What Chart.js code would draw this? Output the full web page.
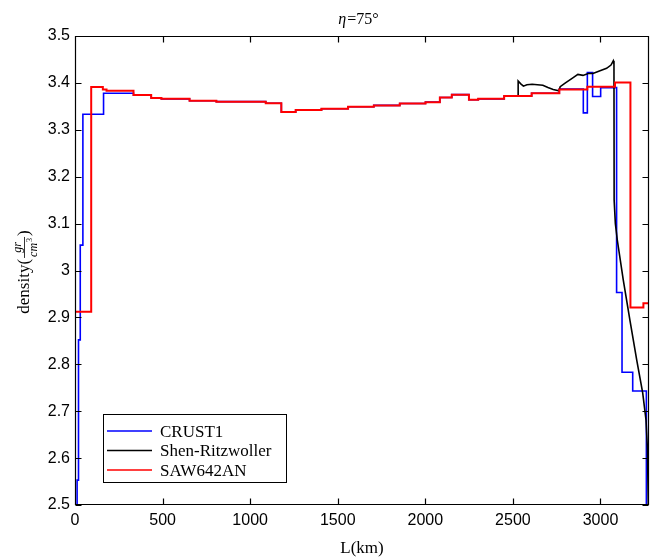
<!DOCTYPE html>
<html>
<head>
<meta charset="utf-8">
<script src="https://cdn.jsdelivr.net/npm/chart.js@4/dist/chart.umd.min.js"></script>
<style>
  html, body { margin: 0; padding: 0; background: #fff; }
  #wrap { width: 650px; height: 559px; position: relative; }
</style>
</head>
<body>
<div id="wrap"><canvas id="c"></canvas></div>
<script>
// ---- data ----
const titleText = ['η', '=75°'];
const xAxisLabel = 'L(km)';
const xTickValues = [0, 500, 1000, 1500, 2000, 2500, 3000];
const yTickValues = [2.5, 2.6, 2.7, 2.8, 2.9, 3.0, 3.1, 3.2, 3.3, 3.4, 3.5];
const seriesNames = ['CRUST1', 'Shen-Ritzwoller', 'SAW642AN'];

// CRUST1 (step profile: value holds until next x)
const crustX = [0, 12, 20, 30, 45, 163, 334, 435, 493, 654, 807, 1089, 1178, 1260, 1407, 1559, 1706, 1854, 2001, 2083, 2151, 2249, 2302, 2450, 2607, 2765, 2902, 2925, 2955, 3001, 3092, 3123, 3184, 3262, 3277];
const crustY = [1.03, 2.553, 2.852, 3.054, 3.333, 3.378, 3.374, 3.368, 3.366, 3.362, 3.360, 3.3565, 3.338, 3.342, 3.345, 3.349, 3.352, 3.356, 3.359, 3.369, 3.375, 3.364, 3.366, 3.372, 3.378, 3.387, 3.336, 3.422, 3.371, 3.390, 2.953, 2.783, 2.743, 2.30, 2.30];

// Shen-Ritzwoller (continuous profile)
const shenX = [2530, 2530, 2545, 2560, 2580, 2610, 2640, 2671, 2700, 2730, 2763, 2770, 2800, 2840, 2871, 2900, 2930, 2957, 2990, 3035, 3060, 3073, 3077, 3078, 3085, 3096, 3130, 3168, 3207, 3241, 3260, 3268, 3275];
const shenY = [3.372, 3.404, 3.398, 3.393, 3.396, 3.397, 3.396, 3.395, 3.390, 3.386, 3.383, 3.392, 3.400, 3.410, 3.418, 3.416, 3.420, 3.420, 3.425, 3.431, 3.438, 3.447, 3.440, 3.150, 3.100, 3.065, 2.980, 2.894, 2.809, 2.739, 2.681, 2.620, 2.450];

// SAW642AN (step profile)
const sawX = [0, 92.5, 159, 180, 334, 435, 493, 654, 807, 1089, 1178, 1260, 1407, 1559, 1706, 1854, 2001, 2083, 2151, 2249, 2302, 2450, 2607, 2765, 2925, 3083, 3171, 3245, 3277];
const sawY = [2.912, 3.391, 3.386, 3.383, 3.374, 3.368, 3.366, 3.362, 3.360, 3.3565, 3.338, 3.342, 3.345, 3.349, 3.352, 3.356, 3.359, 3.369, 3.375, 3.364, 3.366, 3.372, 3.378, 3.386, 3.392, 3.401, 2.921, 2.930, 2.930];

const xMin = 0, xMax = 3277, yMin = 2.5, yMax = 3.5;

const toPts = (xs, ys) => xs.map((x, i) => ({ x: x, y: ys[i] }));
const colors = ['#0000ff', '#000000', '#ff0000'];

const SERIF = '"Liberation Serif", "Times New Roman", serif';
const SANS = '"Liberation Sans", Arial, sans-serif';

const decorPlugin = {
  id: 'decor',
  afterDatasetsDraw(chart) {
    const ctx = chart.ctx;
    const a = chart.chartArea;
    const xs = chart.scales.x, ys = chart.scales.y;
    ctx.save();
    ctx.strokeStyle = '#000';
    ctx.lineWidth = 1.2;
    const L = Math.round(a.left) + 0.5, R = Math.round(a.right) - 0.5;
    const T = Math.round(a.top) + 0.5, B = Math.round(a.bottom) - 0.5;
    ctx.beginPath();
    ctx.rect(L, T, R - L, B - T);
    const tl = 6;
    xTickValues.forEach(v => {
      const px = Math.round(xs.getPixelForValue(v)) + 0.5;
      ctx.moveTo(px, B); ctx.lineTo(px, B - tl);
      ctx.moveTo(px, T); ctx.lineTo(px, T + tl);
    });
    yTickValues.forEach(v => {
      const py = Math.round(ys.getPixelForValue(v)) + 0.5;
      ctx.moveTo(L, py); ctx.lineTo(L + tl, py);
      ctx.moveTo(R, py); ctx.lineTo(R - tl, py);
    });
    ctx.stroke();

    // legend
    const lx = 103.5, ly = 414.5, lw = 183, lh = 68;
    ctx.fillStyle = '#fff';
    ctx.fillRect(lx, ly, lw, lh);
    ctx.lineWidth = 1;
    ctx.strokeRect(lx, ly, lw, lh);
    const rows = [431, 450.5, 470];
    ctx.font = '17px ' + SERIF;
    ctx.textBaseline = 'alphabetic';
    ctx.textAlign = 'left';
    seriesNames.forEach((name, i) => {
      ctx.strokeStyle = colors[i];
      ctx.lineWidth = 1.6;
      ctx.beginPath();
      ctx.moveTo(107, rows[i]); ctx.lineTo(152, rows[i]);
      ctx.stroke();
      ctx.fillStyle = '#000';
      ctx.fillText(name, 160, rows[i] + 5.5);
    });
    ctx.restore();
  },
  afterDraw(chart) {
    const ctx = chart.ctx;
    const a = chart.chartArea;
    ctx.save();
    ctx.fillStyle = '#000';
    ctx.textBaseline = 'alphabetic';
    // title
    ctx.font = 'italic 16px ' + SERIF;
    const w1 = ctx.measureText(titleText[0]).width;
    ctx.font = '16px ' + SERIF;
    const w2 = ctx.measureText(titleText[1]).width;
    const cx = (a.left + a.right) / 2 - 4;
    let sx = cx - (w1 + w2) / 2;
    ctx.textAlign = 'left';
    ctx.font = 'italic 16px ' + SERIF;
    ctx.fillText(titleText[0], sx, 24);
    ctx.font = '16px ' + SERIF;
    ctx.fillText(titleText[1], sx + w1 + 1, 24);

    // x label
    ctx.textAlign = 'center';
    ctx.font = '17px ' + SERIF;
    ctx.fillText(xAxisLabel, (a.left + a.right) / 2, 553);

    // y label: density(gr/cm^3)
    ctx.save();
    ctx.translate(24, 272);
    ctx.rotate(-Math.PI / 2);
    ctx.textAlign = 'left';
    const bigF = '17px ' + SERIF;
    const smF = 'italic 12px ' + SERIF;
    const supF = '8px ' + SERIF;
    ctx.font = bigF;
    const wd = ctx.measureText('density(').width;
    const wp = ctx.measureText(')').width;
    ctx.font = smF;
    const wn = ctx.measureText('gr').width;
    const wc = ctx.measureText('cm').width;
    ctx.font = supF;
    const ws = ctx.measureText('3').width;
    const wden = wc + ws + 1;
    const wf = Math.max(wn, wden) + 4;
    const total = wd + wf + wp;
    let x0 = -total / 2;
    const base = 5;
    ctx.font = bigF;
    ctx.fillText('density(', x0, base);
    const fx = x0 + wd;
    ctx.font = smF;
    ctx.fillText('gr', fx + (wf - wn) / 2, base - 8);
    ctx.fillText('cm', fx + (wf - wden) / 2, base + 8);
    ctx.font = supF;
    ctx.fillText('3', fx + (wf - wden) / 2 + wc + 1, base + 3);
    ctx.lineWidth = 0.8;
    ctx.strokeStyle = '#000';
    ctx.beginPath();
    ctx.moveTo(fx + 1, base - 4.5);
    ctx.lineTo(fx + wf - 1, base - 4.5);
    ctx.stroke();
    ctx.font = bigF;
    ctx.fillText(')', fx + wf, base);
    ctx.restore();

    ctx.restore();
  }
};

const fmt = v => {
  const r = Math.round(v * 10) / 10;
  return String(r);
};

new Chart(document.getElementById('c'), {
  type: 'line',
  data: {
    datasets: [
      { label: seriesNames[0], data: toPts(crustX, crustY), borderColor: colors[0], borderWidth: 1.6, stepped: 'before', pointRadius: 0, fill: false, order: 3 },
      { label: seriesNames[1], data: toPts(shenX, shenY), borderColor: colors[1], borderWidth: 1.6, pointRadius: 0, tension: 0, fill: false, order: 2 },
      { label: seriesNames[2], data: toPts(sawX, sawY), borderColor: colors[2], borderWidth: 2, stepped: 'before', pointRadius: 0, fill: false, order: 1 }
    ]
  },
  options: {
    responsive: true,
    maintainAspectRatio: false,
    animation: false,
    events: [],
    layout: { padding: { top: 36, right: 1, left: 0, bottom: 0 } },
    plugins: { legend: { display: false }, title: { display: false }, tooltip: { enabled: false } },
    scales: {
      x: {
        type: 'linear', min: xMin, max: xMax,
        grid: { display: false, drawTicks: false }, border: { display: false },
        ticks: { color: '#000', font: { family: SANS, size: 16 }, padding: 6, maxRotation: 0, callback: v => String(v) },
        afterBuildTicks: s => { s.ticks = xTickValues.map(v => ({ value: v })); },
        afterFit: s => { s.height = 54; }
      },
      y: {
        type: 'linear', min: yMin, max: yMax,
        grid: { display: false, drawTicks: false }, border: { display: false },
        ticks: { color: '#000', font: { family: SANS, size: 16 }, padding: 5, callback: v => fmt(v) },
        afterBuildTicks: s => { s.ticks = yTickValues.map(v => ({ value: v })); },
        afterFit: s => { s.width = 75; }
      }
    }
  },
  plugins: [decorPlugin]
});
</script>
</body>
</html>
